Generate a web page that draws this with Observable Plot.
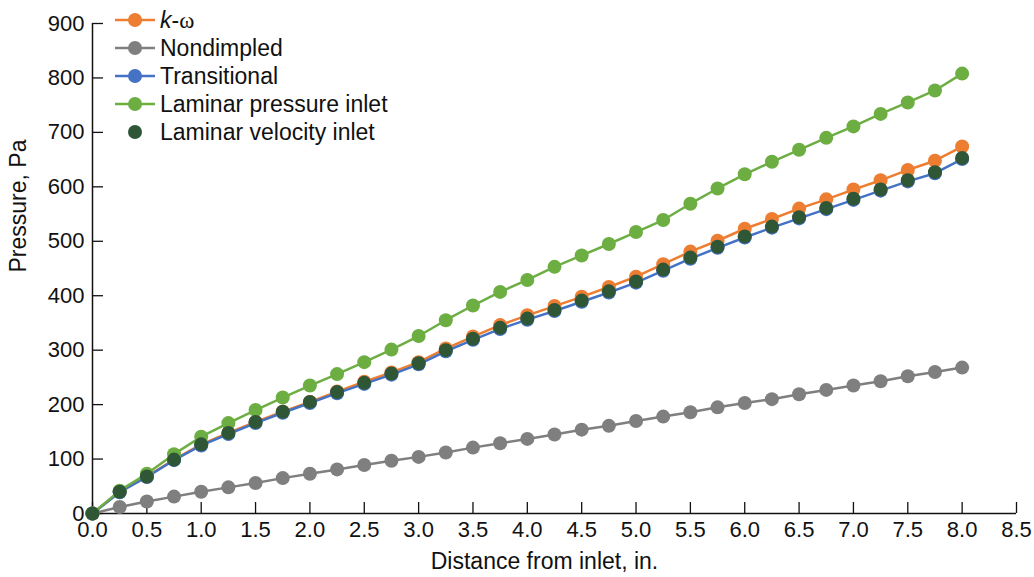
<!DOCTYPE html>
<html><head><meta charset="utf-8">
<script src="https://cdn.jsdelivr.net/npm/d3@7"></script>
<script src="https://cdn.jsdelivr.net/npm/@observablehq/plot@0.6"></script>
<style>
body{margin:0;background:#fff;}
#wrap{position:relative;width:1034px;height:577px;font-family:"Liberation Sans",Arial,sans-serif;background:#fff;}
#legend{position:absolute;left:113px;top:6px;}
.item{display:flex;align-items:center;height:28px;font-size:23px;color:#111;white-space:nowrap;}
.item svg{width:44px;height:28px;margin-right:3px;flex:none;}
</style></head><body>
<div id="wrap"><div id="chart"></div><div id="legend"></div></div>
<script>
// Distance from inlet, in.
const xIn = [0, 0.25, 0.5, 0.75, 1.0, 1.25, 1.5, 1.75, 2.0, 2.25, 2.5, 2.75, 3.0, 3.25, 3.5, 3.75, 4.0,
             4.25, 4.5, 4.75, 5.0, 5.25, 5.5, 5.75, 6.0, 6.25, 6.5, 6.75, 7.0, 7.25, 7.5, 7.75, 8.0];
// Pressure, Pa
const kOmega =          [0, 40, 68, 99, 127, 148, 168, 187, 205, 224, 242, 259, 278, 303, 325, 346, 364,
                         381, 398, 416, 435, 458, 481, 501, 523, 541, 560, 577, 595, 612, 631, 648, 674];
const nondimpled =      [0, 12, 22, 31, 40, 48, 56, 65, 73, 81, 89, 97, 104, 112, 121, 129, 137,
                         145, 154, 161, 170, 178, 186, 195, 203, 210, 219, 227, 235, 243, 252, 260, 268];
const transitional =    [0, 39, 67, 98, 125, 146, 166, 185, 203, 221, 238, 255, 274, 298, 319, 339, 356,
                         372, 389, 406, 424, 446, 468, 488, 507, 525, 542, 559, 576, 593, 610, 625, 651];
const laminarPressure = [0, 42, 73, 109, 141, 166, 190, 213, 235, 256, 278, 301, 326, 355, 382, 407, 429,
                         453, 474, 495, 517, 539, 569, 597, 623, 646, 668, 690, 711, 734, 755, 777, 808];
const laminarVelocity = [0, 40, 68, 99, 127, 148, 168, 187, 205, 223, 240, 257, 276, 300, 321, 341, 358,
                         374, 391, 408, 426, 448, 470, 490, 509, 527, 544, 561, 578, 595, 612, 627, 653];

const seriesNames = ["k-ω", "Nondimpled", "Transitional", "Laminar pressure inlet", "Laminar velocity inlet"];
const seriesValues = [kOmega, nondimpled, transitional, laminarPressure, laminarVelocity];
const seriesColors = ["#ED7D31", "#7F7F7F", "#4472C4", "#6DAE43", "#2F5736"];
const seriesHasLine = [true, true, true, true, false];

const xTicks = [0, 0.5, 1, 1.5, 2, 2.5, 3, 3.5, 4, 4.5, 5, 5.5, 6, 6.5, 7, 7.5, 8, 8.5];
const yTicks = [0, 100, 200, 300, 400, 500, 600, 700, 800, 900];

const tables = seriesValues.map((vals, s) => xIn.map((x, i) => ({x, y: vals[i], s})));

const marks = [
  Plot.ruleX([0], {stroke: "#111", strokeWidth: 1.5}),
  Plot.ruleY([0], {stroke: "#111", strokeWidth: 1.5}),
  Plot.axisX(xTicks, {tickSize: -11, tickPadding: 19, tickFormat: d3.format(".1f"), fontSize: 22, strokeWidth: 1.3, stroke: "#111", fill: "#111", label: null}),
  Plot.axisY(yTicks, {tickSize: -11, tickPadding: 19, fontSize: 22, strokeWidth: 1.3, stroke: "#111", fill: "#111", label: null}),
  Plot.text(["Pressure, Pa"], {frameAnchor: "left", dx: -74, dy: 4, rotate: -90, fontSize: 23, fill: "#111"}),
  Plot.text(["Distance from inlet, in."], {frameAnchor: "bottom", dx: -10, dy: 55, fontSize: 23, fill: "#111"})
];
tables.forEach((t, s) => {
  if (seriesHasLine[s]) marks.push(Plot.line(t, {x: "x", y: "y", stroke: seriesColors[s], strokeWidth: 2.5}));
  marks.push(Plot.dot(t, {x: "x", y: "y", r: 7, fill: seriesColors[s], stroke: "none"}));
});

const chart = Plot.plot({
  width: 1034, height: 577,
  marginLeft: 92, marginRight: 18, marginTop: 23, marginBottom: 64,
  style: {fontFamily: "Liberation Sans, Arial, sans-serif", fontSize: "22px", color: "#111", background: "#fff"},
  x: {domain: [0, 8.5], label: null},
  y: {domain: [0, 900], label: null},
  marks
});
document.getElementById("chart").appendChild(chart);

const legend = document.getElementById("legend");
seriesNames.forEach((name, s) => {
  const row = document.createElement("div");
  row.className = "item";
  const line = seriesHasLine[s] ? `<line x1="2" x2="42" y1="14" y2="14" stroke="${seriesColors[s]}" stroke-width="2.5"/>` : "";
  const label = name === "k-ω" ? `<i>k</i>-<span style="font-family:'Liberation Serif',serif">ω</span>` : name;
  row.innerHTML = `<svg viewBox="0 0 44 28">${line}<circle cx="22" cy="14" r="7" fill="${seriesColors[s]}"/></svg><span>${label}</span>`;
  legend.appendChild(row);
});
</script></body></html>
